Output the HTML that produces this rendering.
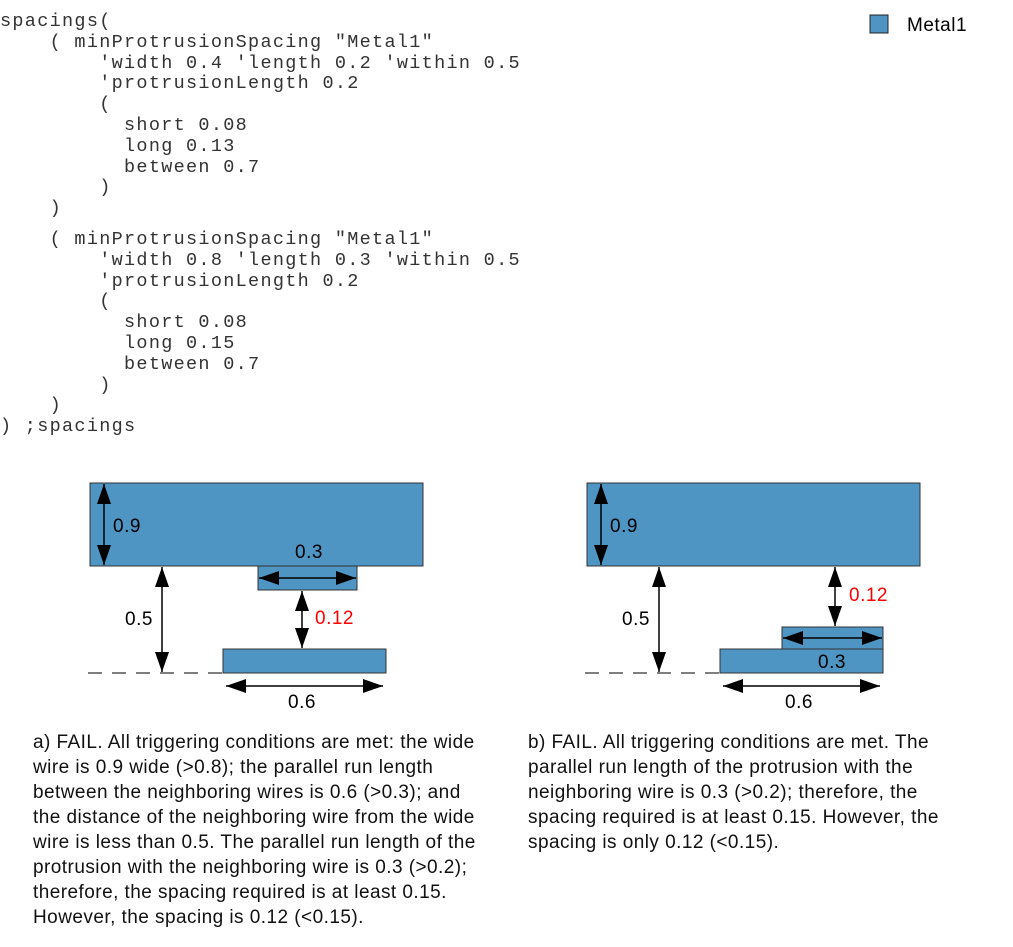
<!DOCTYPE html>
<html><head><style>
body{margin:0;width:1013px;height:947px;background:#fff;position:relative;overflow:hidden}
pre{position:absolute;left:0;top:12px;margin:0;font-family:"Liberation Mono",monospace;font-size:18.5px;letter-spacing:1.3px;line-height:20.8px;color:#333}
.cap{position:absolute;font-family:"Liberation Sans",sans-serif;font-size:19px;letter-spacing:0.45px;line-height:25px;color:#111}
svg{position:absolute;left:0;top:0}
</style></head><body>
<pre>spacings(
    ( minProtrusionSpacing "Metal1"
        'width 0.4 'length 0.2 'within 0.5
        'protrusionLength 0.2
        (
          short 0.08
          long 0.13
          between 0.7
        )
    )</pre>
<pre style="top:230px">    ( minProtrusionSpacing "Metal1"
        'width 0.8 'length 0.3 'within 0.5
        'protrusionLength 0.2
        (
          short 0.08
          long 0.15
          between 0.7
        )
    )
) ;spacings</pre>
<svg width="1013" height="947" font-family="Liberation Sans, sans-serif" font-size="19" letter-spacing="0.5">
<defs>
<marker id="a" viewBox="0 0 20 14" refX="20" refY="7" markerWidth="20" markerHeight="14" markerUnits="userSpaceOnUse" orient="auto-start-reverse"><path d="M0,0L20,7L0,14z" fill="#000"/></marker>
</defs>
<rect x="870" y="15" width="18" height="18" fill="#4f95c3" stroke="#222"/>
<text x="907" y="31">Metal1</text>
<g stroke="#333" fill="#4f95c3">
<rect x="90" y="483" width="333" height="83"/>
<rect x="258" y="566" width="99" height="24"/>
<rect x="223" y="649" width="163" height="24"/>
<rect x="587" y="483" width="333" height="83"/>
<rect x="782" y="627" width="101" height="22"/>
<rect x="720" y="649" width="163" height="24"/>
</g>
<g stroke="#555" stroke-width="1.5" stroke-dasharray="14,10">
<line x1="88" y1="673" x2="223" y2="673"/>
<line x1="585" y1="673" x2="720" y2="673"/>
</g>
<g stroke="#000" stroke-width="1.5" marker-start="url(#a)" marker-end="url(#a)">
<line x1="104" y1="484" x2="104" y2="565"/>
<line x1="162" y1="567" x2="162" y2="672"/>
<line x1="302" y1="591" x2="302" y2="648"/>
<line x1="259" y1="578" x2="356" y2="578"/>
<line x1="226" y1="686" x2="383" y2="686"/>
<line x1="601" y1="484" x2="601" y2="565"/>
<line x1="659" y1="567" x2="659" y2="672"/>
<line x1="835" y1="567" x2="835" y2="626"/>
<line x1="783" y1="638" x2="882" y2="638"/>
<line x1="723" y1="686" x2="880" y2="686"/>
</g>
<g fill="#000">
<text x="113" y="532">0.9</text>
<text x="125" y="625">0.5</text>
<text x="295" y="558">0.3</text>
<text x="288" y="708">0.6</text>
<text x="610" y="532">0.9</text>
<text x="622" y="625">0.5</text>
<text x="818" y="668">0.3</text>
<text x="785" y="708">0.6</text>
</g>
<text x="315" y="624" fill="#f00">0.12</text>
<text x="849" y="601" fill="#f00">0.12</text>
</svg>
<div class="cap" style="left:33px;top:730px;width:480px">a) FAIL. All triggering conditions are met: the wide<br>wire is 0.9 wide (&gt;0.8); the parallel run length<br>between the neighboring wires is 0.6 (&gt;0.3); and<br>the distance of the neighboring wire from the wide<br>wire is less than 0.5. The parallel run length of the<br>protrusion with the neighboring wire is 0.3 (&gt;0.2);<br>therefore, the spacing required is at least 0.15.<br>However, the spacing is 0.12 (&lt;0.15).</div>
<div class="cap" style="left:528px;top:730px;width:480px">b) FAIL. All triggering conditions are met. The<br>parallel run length of the protrusion with the<br>neighboring wire is 0.3 (&gt;0.2); therefore, the<br>spacing required is at least 0.15. However, the<br>spacing is only 0.12 (&lt;0.15).</div>
</body></html>
